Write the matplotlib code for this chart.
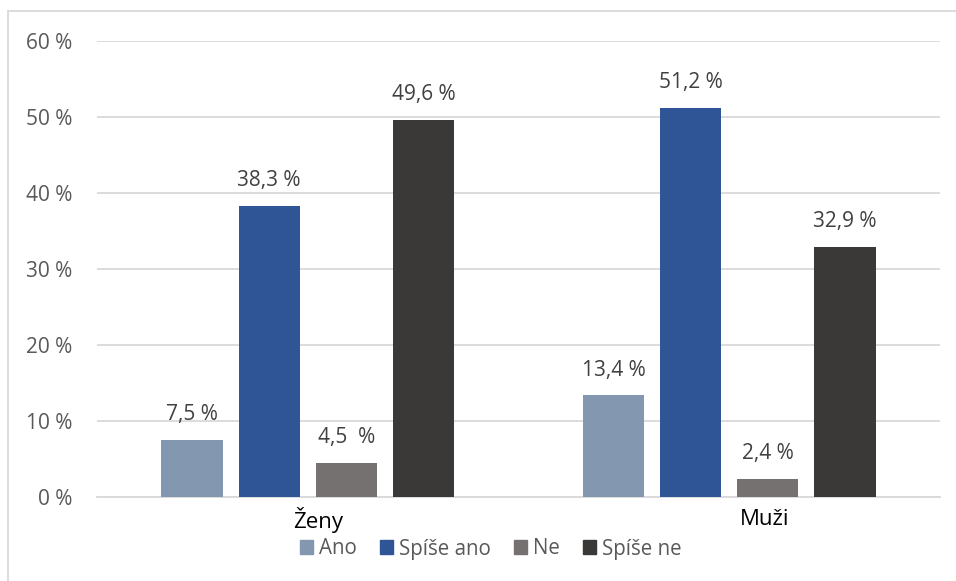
import matplotlib.pyplot as plt
from matplotlib.lines import Line2D

# data
categories = ['Ženy', 'Muži']
series = ['Ano', 'Spíše ano', 'Ne', 'Spíše ne']
values = {
    'Ano': [7.5, 13.4],
    'Spíše ano': [38.3, 51.2],
    'Ne': [4.5, 2.4],
    'Spíše ne': [49.6, 32.9],
}
value_labels = {
    'Ano': ['7,5 %', '13,4 %'],
    'Spíše ano': ['38,3 %', '51,2 %'],
    'Ne': ['4,5  %', '2,4 %'],
    'Spíše ne': ['49,6 %', '32,9 %'],
}
y_ticks = [0, 10, 20, 30, 40, 50, 60]
y_tick_labels = ['0 %', '10 %', '20 %', '30 %', '40 %', '50 %', '60 %']

colors = ['#8497B0', '#2F5597', '#767171', '#3B3838']

plt.rcParams['font.family'] = ['Open Sans', 'DejaVu Sans']

fig = plt.figure(figsize=(9.56, 5.81), dpi=100)
ax = fig.add_axes([97 / 956, 1 - 497 / 581, 843 / 956, 456 / 581])

width = 0.145
step = 0.183
for i, name in enumerate(series):
    xs = [c + (i - 1.5) * step for c in range(len(categories))]
    ax.bar(xs, values[name], width=width, color=colors[i], zorder=3, label=name)
    for x, v, lab in zip(xs, values[name], value_labels[name]):
        ax.text(x, v + 3.3, lab, ha='center', va='center', fontsize=15, color='#404040')

ax.set_xlim(-0.5, 1.5)
ax.set_ylim(0, 60)
ax.set_yticks(y_ticks, y_tick_labels)
ax.tick_params(axis='y', length=0, pad=18, labelsize=15, labelcolor='#595959')
ax.set_xticks([])
# category labels (slightly shifted right as in the original)
for x, cat in zip([0.024, 0.083], categories):
    ax.text(categories.index(cat) + x, -3.0, cat, ha='center', va='center',
            fontsize=16, color='#000000')
ax.grid(axis='y', color='#D9D9D9', linewidth=1.3, zorder=0)
for s in ['top', 'right', 'left']:
    ax.spines[s].set_visible(False)
ax.spines['bottom'].set_color('#D9D9D9')
ax.spines['bottom'].set_linewidth(1.3)

handles = [plt.Rectangle((0, 0), 1, 1, color=c) for c in colors]
fig.legend(handles, series, loc='center', bbox_to_anchor=(491 / 956, 1 - 549 / 581),
           ncol=4, frameon=False, fontsize=14.8, handlelength=0.65, handleheight=0.65,
           handletextpad=0.3, columnspacing=1.1, labelcolor='#595959')

# border lines (top and left)
fig.add_artist(Line2D([8 / 956, 1], [1 - 11 / 581, 1 - 11 / 581], color='#D9D9D9', linewidth=1.3))
fig.add_artist(Line2D([8 / 956, 8 / 956], [0, 1 - 11 / 581], color='#D9D9D9', linewidth=1.3))

fig.savefig('out.png', dpi=100)
